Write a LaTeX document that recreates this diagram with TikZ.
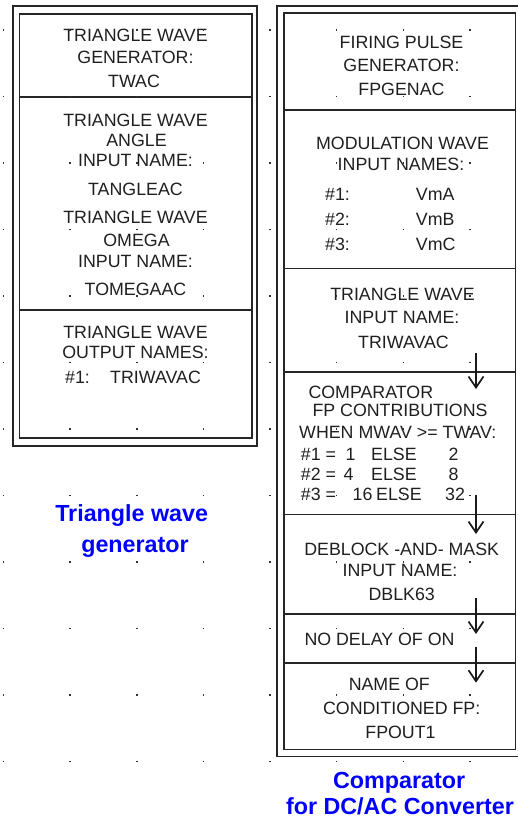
\documentclass[tikz,border=0pt]{standalone}
\usepackage{fontspec}
\setmainfont{Liberation Sans}
\usetikzlibrary{arrows.meta}
\begin{document}
\begin{tikzpicture}[x=1pt,y=-1pt,
  lbl/.style={anchor=base,inner sep=0pt,font=\fontsize{17.8}{20}\selectfont,text=black!88},
  lblw/.style={lbl,anchor=base west},
  caption/.style={anchor=base,inner sep=0pt,font=\fontsize{23.3}{26}\selectfont\bfseries,text=blue},
  frame/.style={draw=black!85,line width=1.8pt},
  divider/.style={draw=black!85,line width=1.6pt},
  flow/.style={draw=black!90,line width=1.7pt,-{Straight Barb[length=11pt,width=15pt]}},
  griddot/.style={fill=black!80}
]
\useasboundingbox (0,0) rectangle (517,825);

% ---------- triangle wave generator block ----------
\draw[frame] (13.3,6.3) rectangle (257.3,446.3);
\draw[frame] (19.5,13.7) rectangle (252,438.3);
\draw[divider] (19.5,96.7) -- (252,96.7);
\draw[divider] (19.5,310) -- (252,310);

\node[lbl] (tw1) at (135.5,41.7) {TRIANGLE WAVE};
\node[lbl] (tw2) at (135.5,63.3) {GENERATOR:};
\node[lbl] (tw3) at (134,87.3) {TWAC};
\node[lbl] (ta1) at (135.5,126) {TRIANGLE WAVE};
\node[lbl] (ta2) at (136.5,146.7) {ANGLE};
\node[lbl] (ta3) at (135.5,166.7) {INPUT NAME:};
\node[lbl] (ta4) at (135.5,195) {TANGLEAC};
\node[lbl] (to1) at (135.5,223.5) {TRIANGLE WAVE};
\node[lbl] (to2) at (136.5,246.7) {OMEGA};
\node[lbl] (to3) at (135.5,267.3) {INPUT NAME:};
\node[lbl] (to4) at (135.5,295) {TOMEGAAC};
\node[lbl] (tout1) at (135.5,338.3) {TRIANGLE WAVE};
\node[lbl] (tout2) at (135.5,358.3) {OUTPUT NAMES:};
\node[lblw] (tout3) at (65,383.3) {\#1:};
\node[lblw] (tout4) at (110,383.3) {TRIWAVAC};

\node[caption] (capl1) at (131.7,521.7) {Triangle wave};
\node[caption] (capl2) at (135,552) {generator};

% ---------- comparator block ----------
\draw[frame] (277.2,6.2) rectangle (522,756.5);
\draw[frame] (283.8,13.2) rectangle (515.5,749.5);
\foreach \yy in {110,268.5,371.7,514.5,614,662.7}
  \draw[divider] (283.8,\yy) -- (515.5,\yy);

\node[lbl] (fp1) at (401.5,48.3) {FIRING PULSE};
\node[lbl] (fp2) at (401.5,71.7) {GENERATOR:};
\node[lbl] (fp3) at (401.5,95) {FPGENAC};

\node[lbl] (mw1) at (402.5,149.3) {MODULATION WAVE};
\node[lbl] (mw2) at (401,170) {INPUT NAMES:};
\node[lblw] (mwa) at (325,200) {\#1:};
\node[lblw] (mwav) at (415.7,200) {VmA};
\node[lblw] (mwb) at (325,225) {\#2:};
\node[lblw] (mwbv) at (415.7,225) {VmB};
\node[lblw] (mwc) at (325,250) {\#3:};
\node[lblw] (mwcv) at (415.7,250) {VmC};

\node[lbl] (ti1) at (402.5,300) {TRIANGLE WAVE};
\node[lbl] (ti2) at (402,323.3) {INPUT NAME:};
\node[lbl] (ti3) at (403.5,348.3) {TRIWAVAC};

\node[lblw] (cp1) at (308.3,398.3) {COMPARATOR};
\node[lblw] (cp2) at (312.3,416.7) {FP CONTRIBUTIONS};
\node[lblw] (cp3) at (299,438.3) {WHEN MWAV >= TWAV:};
\node[lblw] (r1a) at (300.7,460) {\#1 =};
\node[lblw] (r1b) at (345.5,460) {1};
\node[lblw] (r1c) at (371,460) {ELSE};
\node[lblw] (r1d) at (448.3,460) {2};
\node[lblw] (r2a) at (300.7,480) {\#2 =};
\node[lblw] (r2b) at (343.5,480) {4};
\node[lblw] (r2c) at (371,480) {ELSE};
\node[lblw] (r2d) at (448.3,480) {8};
\node[lblw] (r3a) at (300.7,500) {\#3 =};
\node[lblw] (r3b) at (352.5,500) {16};
\node[lblw] (r3c) at (376,500) {ELSE};
\node[lblw] (r3d) at (445,500) {32};

\node[lbl] (db1) at (401.7,555) {DEBLOCK -AND- MASK};
\node[lbl] (db2) at (400,576.7) {INPUT NAME:};
\node[lbl] (db3) at (401.7,600) {DBLK63};

\node[lblw] (nd) at (304.3,645) {NO DELAY OF ON};

\node[lbl] (cf1) at (389.3,690) {NAME OF};
\node[lbl] (cf2) at (401.7,714) {CONDITIONED FP:};
\node[lbl] (cf3) at (400.5,738.3) {FPOUT1};

\node[caption] (capr1) at (399.2,788.3) {Comparator};
\node[caption] (capr2) at (400,814.3) {for DC/AC Converter};

% ---------- signal flow between stages ----------
\coordinate (a1s) at (476,353);   \coordinate (a1e) at (476,389);
\coordinate (a2s) at (476,495);   \coordinate (a2e) at (476,534);
\coordinate (a3s) at (476,598.3); \coordinate (a3e) at (476,634);
\coordinate (a4s) at (476,646.7); \coordinate (a4e) at (476,682.7);
\draw[flow] (a1s) -- (a1e);
\draw[flow] (a2s) -- (a2e);
\draw[flow] (a3s) -- (a3e);
\draw[flow] (a4s) -- (a4e);

% ---------- snap grid ----------
\foreach \gx in {3.5,70,136.7,203.3,270,336.6,403.3,470}
  \foreach \gy in {30,96.5,163,229.5,296,362.5,429,495.5,562,628.5,695,761.5}
    \fill[griddot] (\gx-0.8,\gy-0.8) rectangle (\gx+0.8,\gy+0.8);
\end{tikzpicture}
\end{document}
